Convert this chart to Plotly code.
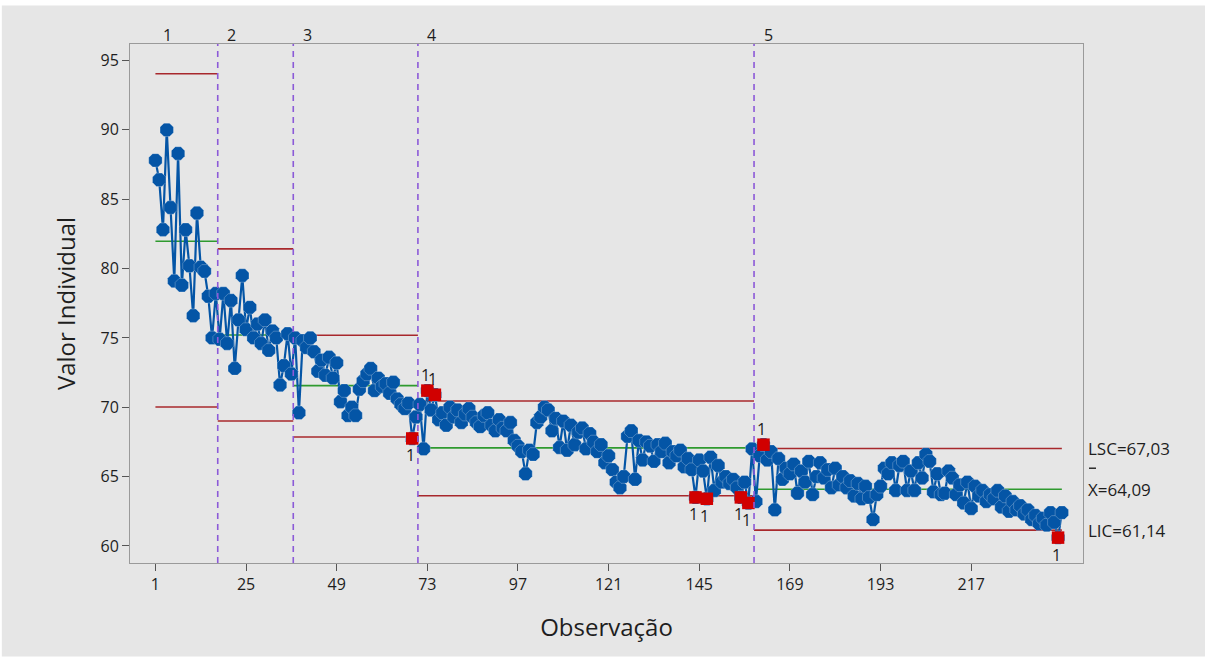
import plotly.graph_objects as go

# Individual values per stage (Minitab-style I chart by stage)
stage1 = [87.8, 86.4, 82.8, 90.0, 84.4, 79.1, 88.3, 78.8, 82.8, 80.2,
          76.6, 84.0, 80.1, 79.8, 78.0, 75.0, 78.2]
stage2 = [74.9, 78.2, 74.6, 77.7, 72.8, 76.3, 79.5, 75.6, 77.2, 75.0,
          76.0, 74.6, 76.3, 74.1, 75.5, 75.0, 71.6, 73.0, 75.3, 72.4]
stage3 = [75.0, 69.6, 74.8, 74.3, 75.0, 74.0, 72.6, 73.4, 72.3, 73.6,
          72.1, 73.2, 70.4, 71.2, 69.4, 70.0, 69.4, 71.3, 71.9, 72.4,
          72.8, 71.2, 72.1, 71.5, 71.7, 71.0, 71.8, 70.6, 70.2, 69.9,
          70.3, 67.75, 69.3]
stage4 = [70.2, 67.0, 71.2, 69.8, 70.9, 69.1, 69.6, 68.7, 70.0, 69.3,
          69.8, 68.9, 69.5, 69.9, 69.3, 68.9, 68.6, 69.4, 69.6, 68.7,
          68.3, 69.1, 68.5, 68.3, 68.9, 67.6, 67.2, 66.8, 65.2, 66.9,
          66.6, 68.9, 69.3, 70.0, 69.8, 68.3, 69.2, 67.1, 69.0, 66.9,
          68.7, 67.3, 68.2, 68.5, 67.0, 68.1, 67.5, 66.8, 67.3, 66.0,
          66.5, 65.5, 64.6, 64.2, 65.0, 67.9, 68.3, 64.8, 67.6, 66.2,
          67.5, 67.2, 66.1, 67.3, 66.8, 67.4, 66.0, 66.8, 66.5, 66.9,
          65.7, 66.3, 65.5, 63.5, 66.2, 65.4, 63.4, 66.4, 64.0, 65.8,
          64.6, 65.0, 64.5, 64.8, 64.2, 63.5, 64.6, 63.1, 67.0]
stage5 = [63.2, 66.5, 67.3, 66.2, 66.8, 62.6, 66.3, 64.8, 65.6, 65.2,
          65.9, 63.8, 65.4, 64.6, 66.1, 63.7, 65.0, 66.0, 64.9, 65.5,
          64.2, 65.6, 64.4, 65.0, 64.2, 64.7, 63.6, 64.5, 63.4, 64.3,
          63.5, 61.9, 63.7, 64.3, 65.6, 65.2, 66.0, 64.0, 65.8, 66.1,
          64.0, 65.4, 64.0, 66.0, 64.9, 66.6, 66.1, 63.9, 65.2, 63.7,
          63.8, 65.4, 64.9, 63.7, 64.4, 63.1, 64.6, 62.7, 64.3, 63.6,
          64.0, 63.2, 63.7, 63.4, 64.0, 62.8, 63.6, 62.5, 63.2, 62.6,
          62.9, 62.3, 62.6, 61.9, 62.2, 61.6, 62.0, 61.5, 62.4, 61.7,
          60.6, 62.4]

stages = [stage1, stage2, stage3, stage4, stage5]
stage_names = ["1", "2", "3", "4", "5"]

# Control limits per stage
ucl = [94.05, 81.42, 75.19, 70.45, 67.03]
center = [81.97, 75.21, 71.56, 67.07, 64.09]
lcl = [70.02, 69.01, 67.86, 63.62, 61.14]

x_ticks = [1, 25, 49, 73, 97, 121, 145, 169, 193, 217]
y_ticks = [60, 65, 70, 75, 80, 85, 90, 95]

BLUE = "#0455a6"
RED = "#d10000"
LIMIT = "#a8282c"
GREEN = "#2f9a2f"
PURPLE = "#8c5ad8"
TXT = "#1e1e1e"
FONT = "Open Sans"

values = [v for s in stages for v in s]
obs = list(range(1, len(values) + 1))

# stage index ranges
bounds = []
start = 1
for s in stages:
    bounds.append((start, start + len(s) - 1))
    start += len(s)

fig = go.Figure()

# limit and center lines
for i, (a, b) in enumerate(bounds):
    x0 = a - 0.5 if i > 0 else a
    x1 = b + 0.5 if i < len(bounds) - 1 else b
    for level, col in ((ucl[i], LIMIT), (lcl[i], LIMIT), (center[i], GREEN)):
        fig.add_trace(go.Scatter(x=[x0, x1], y=[level, level], mode="lines",
                                 line=dict(color=col, width=1.6),
                                 hoverinfo="skip", showlegend=False))

shapes = []
# stage boundaries
for i, (a, b) in enumerate(bounds[:-1]):
    shapes.append(dict(type="line", xref="x", yref="paper", x0=b + 0.5, x1=b + 0.5,
                       y0=0, y1=1, line=dict(color=PURPLE, width=1.6, dash="6px,5px")))

# observations
fig.add_trace(go.Scatter(x=obs, y=values, mode="lines+markers",
                         line=dict(color=BLUE, width=2.2),
                         marker=dict(symbol="octagon", size=14.5, color=BLUE,
                                     line=dict(color="rgba(255,255,255,0.5)", width=0.5)),
                         showlegend=False))

# points beyond the limits (test 1)
fx, fy = [], []
annotations = []
small = dict(family=FONT, size=16, color=TXT)
for i, (a, b) in enumerate(bounds):
    for k in range(a, b + 1):
        v = values[k - 1]
        if v > ucl[i] or v < lcl[i]:
            fx.append(k)
            fy.append(v)
            above = v > ucl[i]
            annotations.append(dict(x=k, y=v, xref="x", yref="y", text="1",
                                    showarrow=False, font=small,
                                    yshift=16 if above else -17, xshift=-2))
fig.add_trace(go.Scatter(x=fx, y=fy, mode="markers",
                         marker=dict(symbol="square", size=12.5, color=RED),
                         showlegend=False))

# stage labels on top
for i, (a, b) in enumerate(bounds):
    x0 = a - 0.5
    annotations.append(dict(x=x0, y=1, xref="x", yref="paper", text=stage_names[i],
                            showarrow=False, xanchor="center", yanchor="middle",
                            xshift=14, yshift=9, font=small))

# summary labels for the last stage
lab_font = dict(family=FONT, size=17, color=TXT)
annotations.append(dict(x=1, y=ucl[-1], xref="paper", yref="y", xanchor="left",
                        text=f"LSC={ucl[-1]:.2f}".replace(".", ","), showarrow=False,
                        xshift=3, font=lab_font))
annotations.append(dict(x=1, y=center[-1], xref="paper", yref="y", xanchor="left",
                        text=f"X={center[-1]:.2f}".replace(".", ","),
                        showarrow=False, xshift=3, font=lab_font))
annotations.append(dict(x=1, y=lcl[-1], xref="paper", yref="y", xanchor="left",
                        text=f"LIC={lcl[-1]:.2f}".replace(".", ","), showarrow=False,
                        xshift=3, font=lab_font))
# bar over the X of the mean label
shapes.append(dict(type="line", xref="paper", xsizemode="pixel", xanchor=1, x0=6, x1=13,
                   yref="y", ysizemode="pixel", yanchor=center[-1], y0=21, y1=21,
                   line=dict(color=TXT, width=1.4)))

# grey panel behind the chart
shapes.append(dict(type="rect", xref="paper", yref="paper", x0=-0.1345, x1=1.128,
                   y0=-0.18, y1=1.074, fillcolor="#e6e6e6", line=dict(width=0),
                   layer="below"))

fig.update_layout(
    width=1211, height=662,
    margin=dict(l=130, r=128, t=44, b=99),
    paper_bgcolor="white",
    plot_bgcolor="white",
    font=dict(family=FONT, color=TXT),
    annotations=annotations,
    shapes=shapes,
)

fig.update_xaxes(range=[-5.73, 246.6], tickvals=x_ticks, ticks="outside", ticklen=7,
                 tickcolor="#555", showgrid=False, zeroline=False,
                 showline=True, linecolor="#9a9a9a", linewidth=1, mirror=True,
                 tickfont=dict(family=FONT, size=16, color=TXT),
                 title=dict(text="Observação", font=dict(family=FONT, size=24, color=TXT),
                            standoff=24))
fig.update_yaxes(range=[58.77, 96.19], tickvals=y_ticks, ticks="outside", ticklen=7,
                 tickcolor="#555", showgrid=False, zeroline=False,
                 showline=True, linecolor="#9a9a9a", linewidth=1, mirror=True,
                 tickfont=dict(family=FONT, size=16, color=TXT),
                 title=dict(text="Valor Individual", font=dict(family=FONT, size=24, color=TXT),
                            standoff=18))

fig.write_html("out.html")
